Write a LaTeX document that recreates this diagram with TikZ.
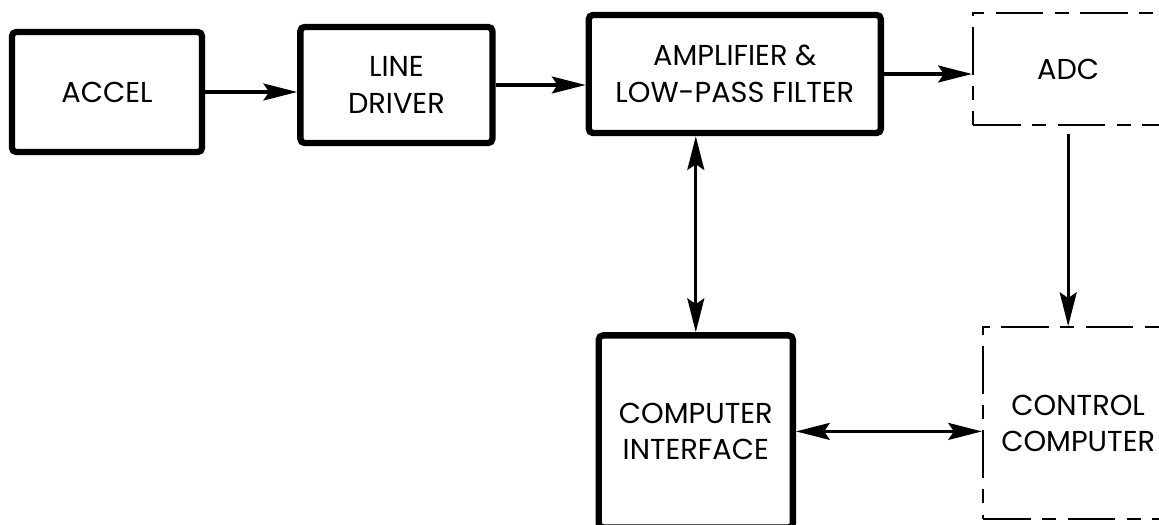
\documentclass[tikz,border=0pt]{standalone}
\usepackage{fontspec}
\setmainfont{Poppins}
\usetikzlibrary{arrows.meta}
\usetikzlibrary{positioning}

\begin{document}
\begin{tikzpicture}[x=0.025cm,y=-0.025cm,
  >={Stealth[length=24pt,width=12pt,inset=4pt]},
  link/.style={line width=2.4pt},
  main node/.style={draw,line width=4.5pt,rounded corners=3pt,align=center,
    font=\fontsize{20.5}{26}\selectfont},
  dash node/.style={main node,line width=1.6pt,rounded corners=0pt,
    dash pattern=on 34pt off 8pt on 10pt off 8pt}]

  \useasboundingbox (0,0) rectangle (1159,525);

  \node[main node,minimum width=4.75cm,minimum height=3cm] (accel) at (107,92) {ACCEL};
  \node[main node,minimum width=4.8cm,minimum height=2.9cm] (driver) [right=2.3cm of accel,yshift=0.175cm] {LINE\\DRIVER};
  \node[main node,minimum width=7.3cm,minimum height=2.95cm] (amp) [right=2.25cm of driver,yshift=0.275cm] {AMPLIFIER \&\\LOW-PASS FILTER};
  \node[dash node,minimum width=4.75cm,minimum height=2.8cm] (adc) [right=2.2cm of amp,yshift=0.125cm] {ADC};
  \node[main node,minimum width=4.85cm,minimum height=4.8cm] (ci) [below=4.9cm of amp,xshift=-0.975cm] {COMPUTER\\INTERFACE};
  \node[dash node,minimum width=4.75cm,minimum height=4.8cm] (cc) [below=5cm of adc,xshift=0.25cm] {CONTROL\\COMPUTER};

  \draw[link,->] (accel.east) -- (accel.east -| driver.west);
  \draw[link,->] (driver.east) -- (driver.east -| amp.west);
  \draw[link,->] (amp.east) -- (amp.east -| adc.west);
  \draw[link,<->] (ci.north) -- (ci.north |- amp.south);
  \draw[link,->,shorten <=0.2cm] (adc.south) -- (adc.south |- cc.north);
  \draw[link,<->] (ci.east) -- (ci.east -| cc.west);
\end{tikzpicture}
\end{document}
